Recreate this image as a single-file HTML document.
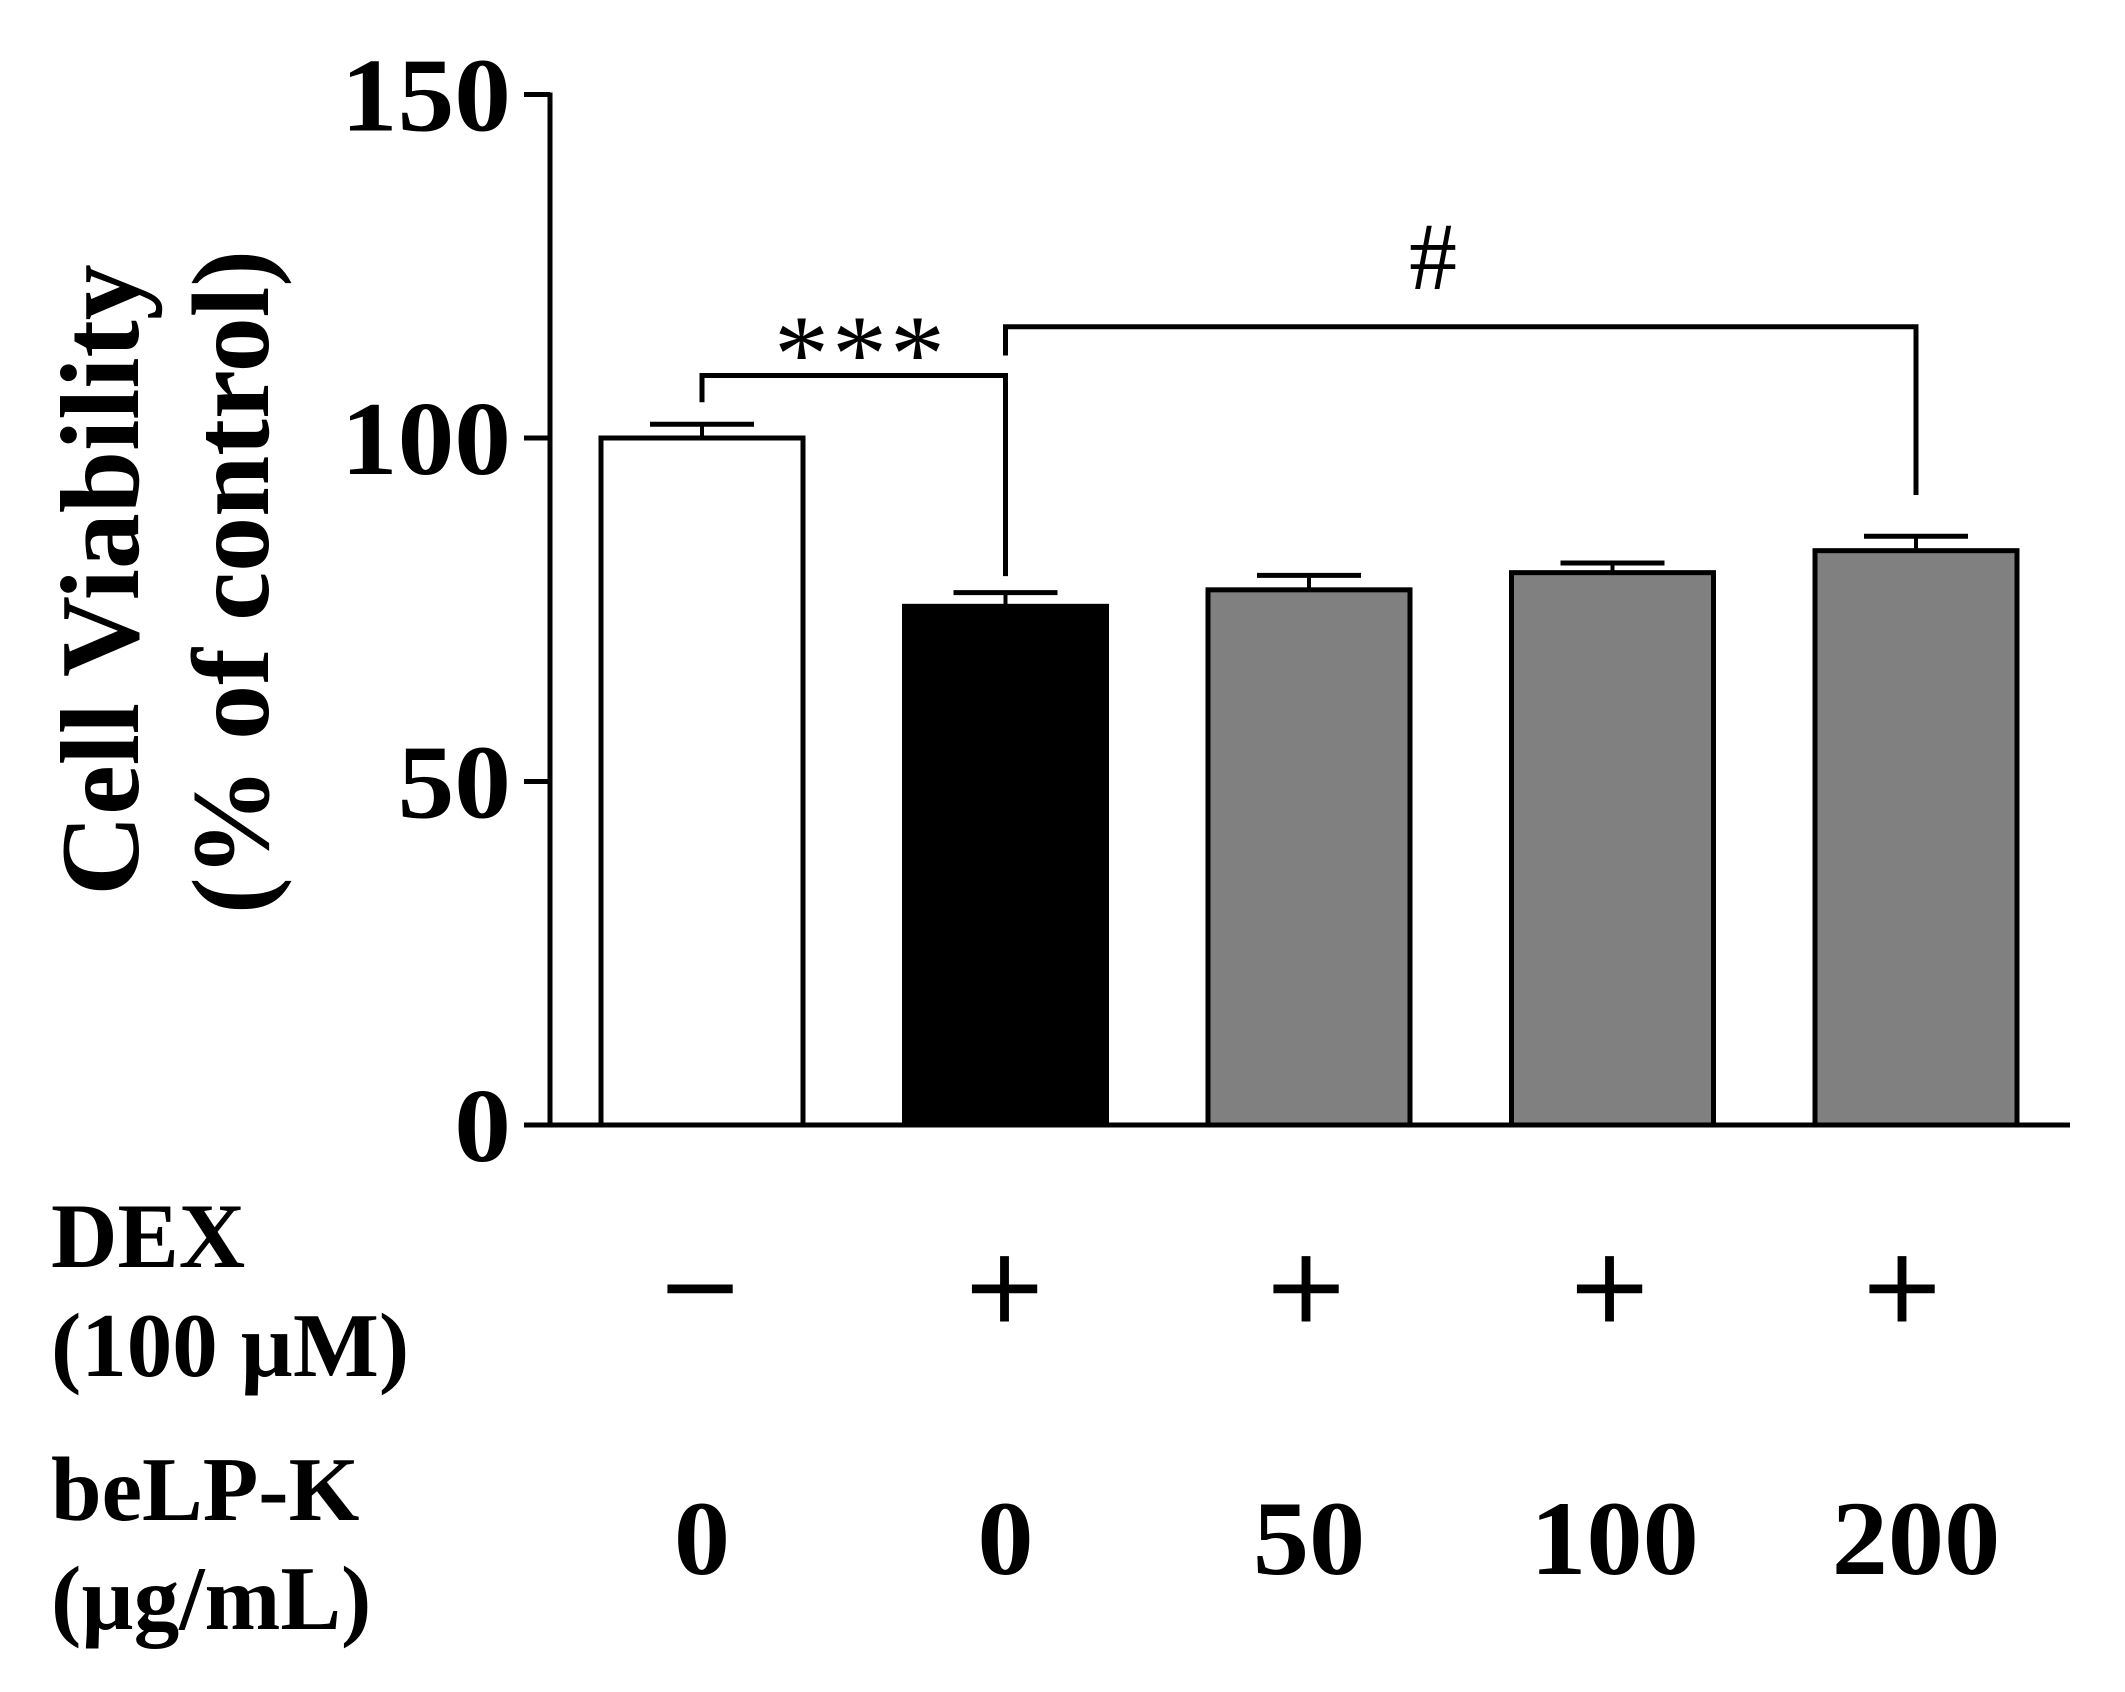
<!DOCTYPE html>
<html lang="en">
<head>
<meta charset="utf-8">
<title>Cell Viability Bar Chart</title>
<style>
  html, body { margin: 0; padding: 0; background: #fff; }
  body { width: 2125px; height: 1692px; overflow: hidden; }
  svg { display: block; }
  text { font-family: "Liberation Serif", "Noto Serif CJK SC", serif; fill: #000; }
  .b { font-weight: bold; }
</style>
</head>
<body>
<svg id="chart" xmlns="http://www.w3.org/2000/svg" width="2125" height="1692" viewBox="0 0 2125 1692">
  <rect x="0" y="0" width="2125" height="1692" fill="#fff"/>
  <text class="b" font-size="112" text-anchor="middle" transform="translate(138 580) rotate(-90)">Cell Viability</text>
  <text class="b" font-size="110" text-anchor="middle" transform="translate(268 582) rotate(-90)">(% of control)</text>
  <text class="b" font-size="92" x="51" y="1267">DEX</text>
  <text class="b" font-size="91" x="51" y="1376">(100 µM)</text>
  <text class="b" font-size="91" x="51" y="1520">beLP-K</text>
  <text class="b" font-size="91" x="51" y="1629">(µg/mL)</text>
  <text font-size="110" letter-spacing="3" text-anchor="middle" x="861" y="391">***</text>
  <text font-size="96" text-anchor="middle" x="1433" y="289">#</text>
</svg>
<script>
// Chart data
const categories = ["control", "dex-only", "belp-50", "belp-100", "belp-200"];
const means = [100, 75.5, 77.9, 80.4, 83.6];
const errorTops = [102, 77.5, 80, 81.8, 85.7];
const fills = ["#ffffff", "#000000", "#808080", "#808080", "#808080"];
const yTicks = [0, 50, 100, 150];
const dexLabels = ["\u2212", "+", "+", "+", "+"];
const belpLabels = ["0", "0", "50", "100", "200"];
const bracketFrom = [0, 1];
const bracketTo = [1, 4];
const bracketLevels = [109.1, 116.2];
const bracketFromEnds = [105.2, 112];
const bracketToEnds = [79.9, 91.7];

// Label nudges relative to the bar centres, in pixels
const dexNudge = [-2, -1, -3, -3, -14];
const belpNudge = [0, 0, 0, 2, 0];

// Axis functions
const baseY = 1125;
const unit = 6.87;
const firstX = 702;
const stepX = 303.5;
const halfBar = 101;
const capHalf = 52;
const axisLeft = 550;
const y = v => baseY - v * unit;
const x = i => firstX + i * stepX;

const svg = document.getElementById('chart');
const NS = 'http://www.w3.org/2000/svg';

function line(x1, y1, x2, y2, w) {
  const el = document.createElementNS(NS, 'line');
  el.setAttribute('x1', x1);
  el.setAttribute('y1', y1);
  el.setAttribute('x2', x2);
  el.setAttribute('y2', y2);
  el.setAttribute('stroke', '#000');
  el.setAttribute('stroke-width', w);
  svg.appendChild(el);
  return el;
}

function label(str, px, py, size, anchor, bold, stretch) {
  const el = document.createElementNS(NS, 'text');
  el.setAttribute('transform', 'translate(' + px + ' ' + py + ') scale(' + stretch + ' 1)');
  el.setAttribute('font-size', size);
  el.setAttribute('text-anchor', anchor);
  if (bold) el.setAttribute('class', 'b');
  el.textContent = str;
  svg.appendChild(el);
  return el;
}

// Bars and error bars
categories.forEach((c, i) => {
  const r = document.createElementNS(NS, 'rect');
  r.setAttribute('x', x(i) - halfBar);
  r.setAttribute('y', y(means[i]));
  r.setAttribute('width', halfBar * 2);
  r.setAttribute('height', baseY - y(means[i]));
  r.setAttribute('fill', fills[i]);
  r.setAttribute('stroke', '#000');
  r.setAttribute('stroke-width', 5);
  
  
  svg.appendChild(r);

  const stem = line(x(i), y(means[i]), x(i), y(errorTops[i]), 4);
  
  

  const cap = line(x(i) - capHalf, y(errorTops[i]), x(i) + capHalf, y(errorTops[i]), 5);
  
  
});

// Axes
const yAxis = line(axisLeft, y(150) - 2, axisLeft, baseY, 5);



const xAxis = line(524, baseY, 2070, baseY, 5);



yTicks.forEach(t => {
  const tick = line(524, y(t), axisLeft, y(t), 5);
  
  

  const tl = label(String(t), 511, y(t) + 36, 105, 'end', true, 1.08);
  
  
});

// Treatment rows
dexLabels.forEach((s, i) => {
  const el = label(s, x(i) + dexNudge[i], 1334, 136, 'middle', false, 1);
  el.setAttribute('stroke', '#000');
  el.setAttribute('stroke-width', 2);
  
  
});

belpLabels.forEach((s, i) => {
  const el = label(s, x(i) + belpNudge[i], 1574, 106, 'middle', true, 1.06);
  
  
});

// Significance brackets
bracketLevels.forEach((lv, k) => {
  const a = x(bracketFrom[k]);
  const b = x(bracketTo[k]);
  const p = document.createElementNS(NS, 'path');
  p.setAttribute('d', 'M' + a + ' ' + y(bracketFromEnds[k]) + ' V' + y(lv) + ' H' + b + ' V' + y(bracketToEnds[k]));
  p.setAttribute('fill', 'none');
  p.setAttribute('stroke', '#000');
  p.setAttribute('stroke-width', 5);
  
  
  svg.appendChild(p);
});
</script>
</body>
</html>
